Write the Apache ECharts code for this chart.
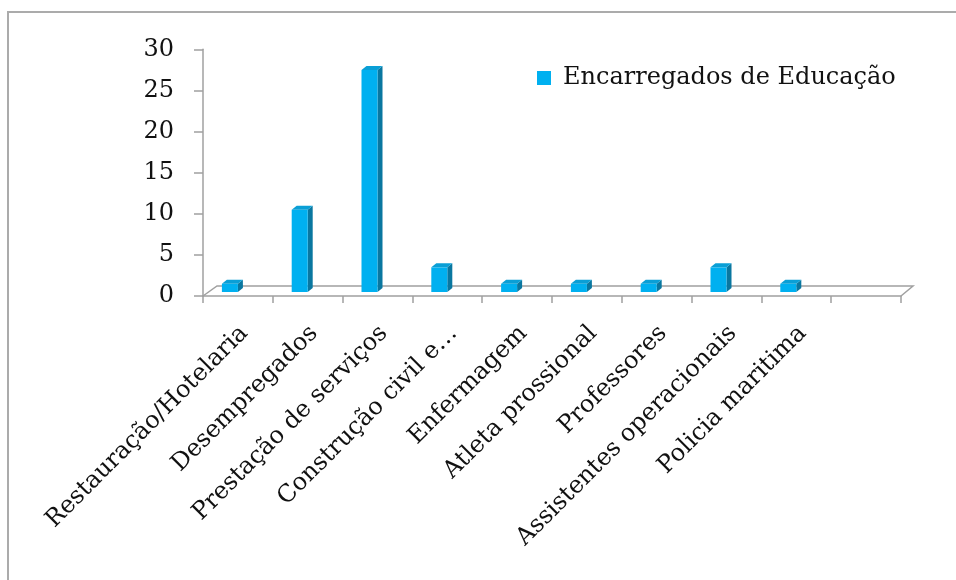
<!DOCTYPE html>
<html>
<head>
<meta charset="utf-8">
<script src="https://cdn.jsdelivr.net/npm/echarts@6/dist/echarts.min.js"></script>
<style>
  html, body { margin: 0; padding: 0; background: #fff; }
  #chart { width: 956px; height: 580px; }
</style>
</head>
<body>
<div id="chart"></div>
<script>
// Occupations of the parents/guardians (Encarregados de Educação)
const seriesName = 'Encarregados de Educação';
const categories = [
  'Restauração/Hotelaria',
  'Desempregados',
  'Prestação de serviços',
  'Construção civil e…',
  'Enfermagem',
  'Atleta prossional',
  'Professores',
  'Assistentes operacionais',
  'Policia maritima',
  ''
];
const counts = [1, 10, 27, 3, 1, 1, 1, 3, 1, null];
const yMin = 0;
const yMax = 30;
const yStep = 5;

// 3D look: face colours and projection offsets (pixels)
const FRONT = '#00b0f0';
const SIDE = '#0a77a0';
const TOP = '#0a9fd6';
const BAR_W = 16;
const BAR_DX = 5, BAR_DY = -4;      // depth of each column
const SHIFT_X = -8, SHIFT_Y = -4;   // columns sit in the middle of the floor
const FLOOR_DX = 14, FLOOR_DY = -10;

const font = 'DejaVu Serif';
const axisGray = '#a0a0a0';

function renderColumn(params, api) {
  const v = api.value(1);
  if (v == null || isNaN(v)) return;
  const base = api.coord([api.value(0), 0]);
  const top = api.coord([api.value(0), v]);
  const cx = base[0] + SHIFT_X;
  const y0 = base[1] + SHIFT_Y;
  const y1 = top[1] + SHIFT_Y;
  const xl = cx - BAR_W / 2, xr = cx + BAR_W / 2;
  return {
    type: 'group',
    children: [
      { type: 'polygon', shape: { points: [[xr, y1], [xr + BAR_DX, y1 + BAR_DY], [xr + BAR_DX, y0 + BAR_DY], [xr, y0]] },
        style: { fill: SIDE } },
      { type: 'rect', shape: { x: xl, y: y1, width: BAR_W, height: y0 - y1 },
        style: { fill: FRONT } },
      { type: 'polygon', shape: { points: [[xl, y1], [xr, y1], [xr + BAR_DX, y1 + BAR_DY], [xl + BAR_DX, y1 + BAR_DY]] },
        style: { fill: TOP } }
    ]
  };
}

function renderFloor(params, api) {
  const c0 = api.coord([0, 0]);
  const band = api.size([1, 0])[0];
  const x0 = c0[0] - band / 2;
  const x1 = x0 + band * categories.length;
  const y = c0[1];
  return {
    type: 'polyline',
    shape: { points: [[x0, y], [x0 + FLOOR_DX, y + FLOOR_DY], [x1 + FLOOR_DX - 2, y + FLOOR_DY], [x1, y]] },
    style: { fill: null, stroke: axisGray, lineWidth: 1.5 }
  };
}

const chart = echarts.init(document.getElementById('chart'), null, { renderer: 'canvas' });
chart.setOption({
  animation: false,
  backgroundColor: '#ffffff',
  graphic: [{
    type: 'rect',
    shape: { x: 8, y: 12, width: 1000, height: 700 },
    style: { fill: null, stroke: '#ababab', lineWidth: 2 },
    silent: true
  }],
  legend: {
    data: [seriesName],
    left: 537,
    top: 66,
    padding: 0,
    itemWidth: 14,
    itemHeight: 14,
    icon: 'rect',
    textStyle: { fontFamily: font, fontSize: 24, color: '#111', padding: [0, 0, 0, 7] }
  },
  grid: { left: 203, right: 55, top: 49.3, bottom: 284, containLabel: false },
  xAxis: {
    type: 'category',
    data: categories,
    boundaryGap: true,
    axisLine: { show: true, lineStyle: { color: axisGray, width: 1.5 } },
    axisTick: { show: true, length: 7, lineStyle: { color: axisGray, width: 1.5 } },
    axisLabel: {
      rotate: 45,
      interval: 0,
      margin: 40,
      padding: [0, -9, 0, 0],
      fontFamily: font,
      fontSize: 24,
      color: '#111'
    },
    splitLine: { show: false }
  },
  yAxis: {
    type: 'value',
    min: yMin,
    max: yMax,
    interval: yStep,
    axisLine: { show: true, lineStyle: { color: axisGray, width: 1.5 } },
    axisTick: { show: true, length: 9, lineStyle: { color: axisGray, width: 1.5 } },
    axisLabel: { margin: 29, fontFamily: font, fontSize: 24, color: '#111' },
    splitLine: { show: false }
  },
  series: [
    {
      type: 'custom',
      name: 'floor',
      silent: true,
      z: 1,
      renderItem: renderFloor,
      data: [[0, 0]]
    },
    {
      type: 'custom',
      name: seriesName,
      z: 2,
      itemStyle: { color: FRONT },
      renderItem: renderColumn,
      encode: { x: 0, y: 1 },
      data: counts.map((v, i) => [i, v])
    }
  ]
});
</script>
</body>
</html>
